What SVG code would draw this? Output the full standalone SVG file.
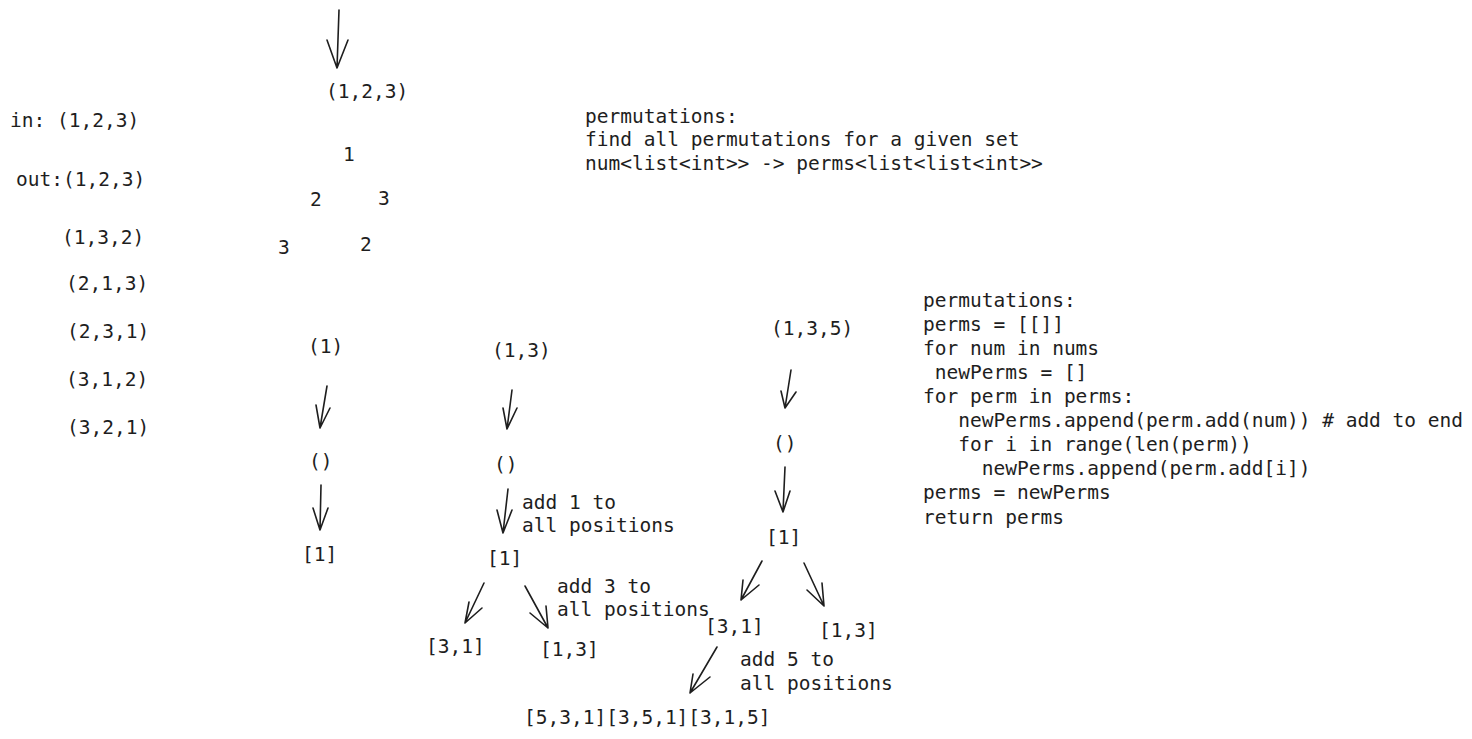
<svg xmlns="http://www.w3.org/2000/svg" width="1472" height="739" viewBox="0 0 1472 739">
<style>
text { font-family: "DejaVu Sans Mono", "Liberation Mono", monospace; font-size: 19.5px; fill: #1e1e1e; }
.a { fill: none; stroke: #1e1e1e; stroke-width: 1.6; stroke-linecap: round; stroke-linejoin: round; }
</style>
<rect width="1472" height="739" fill="#ffffff"/>

<g id="io-list">
<text x="10" y="127">in: (1,2,3)</text>
<text x="16" y="186">out:(1,2,3)</text>
<text x="62" y="244">(1,3,2)</text>
<text x="66" y="290">(2,1,3)</text>
<text x="67" y="338">(2,3,1)</text>
<text x="66" y="386">(3,1,2)</text>
<text x="67" y="434">(3,2,1)</text>
</g>

<g id="tree-123">
<text x="326" y="98">(1,2,3)</text>
<text x="343" y="161">1</text>
<text x="310" y="206">2</text>
<text x="378" y="205">3</text>
<text x="278" y="254">3</text>
<text x="360" y="251">2</text>
</g>

<g id="description">
<text x="585" y="123">permutations:</text>
<text x="585" y="146">find all permutations for a given set</text>
<text x="585" y="170">num&lt;list&lt;int&gt;&gt; -&gt; perms&lt;list&lt;list&lt;int&gt;&gt;</text>
</g>

<g id="pseudocode">
<text x="923" y="307">permutations:</text>
<text x="923" y="331">perms = [[]]</text>
<text x="923" y="355">for num in nums</text>
<text x="923" y="379" xml:space="preserve"> newPerms = []</text>
<text x="923" y="403">for perm in perms:</text>
<text x="923" y="427" xml:space="preserve">   newPerms.append(perm.add(num)) # add to end</text>
<text x="923" y="451" xml:space="preserve">   for i in range(len(perm))</text>
<text x="923" y="475" xml:space="preserve">     newPerms.append(perm.add[i])</text>
<text x="923" y="499">perms = newPerms</text>
<text x="923" y="524">return perms</text>
</g>

<g id="ex1">
<text x="308" y="353">(1)</text>
<text x="309" y="468">()</text>
<text x="302" y="561">[1]</text>
</g>

<g id="ex2">
<text x="492" y="357">(1,3)</text>
<text x="494" y="471">()</text>
<text x="522" y="509">add 1 to</text>
<text x="522" y="532">all positions</text>
<text x="487" y="565">[1]</text>
<text x="557" y="593">add 3 to</text>
<text x="557" y="616">all positions</text>
<text x="426" y="653">[3,1]</text>
<text x="540" y="656">[1,3]</text>
</g>

<g id="ex3">
<text x="771" y="335">(1,3,5)</text>
<text x="773" y="450">()</text>
<text x="766" y="544">[1]</text>
<text x="705" y="633">[3,1]</text>
<text x="819" y="637">[1,3]</text>
<text x="740" y="666">add 5 to</text>
<text x="740" y="690">all positions</text>
<text x="524" y="724">[5,3,1][3,5,1][3,1,5]</text>
</g>

<g id="connectors">
<path class="a" d="M339 10 L337 68 M327 40 L337 68 L348 40"/>
<path class="a" d="M327 386 L320 428 M316 405 L320 428 L330 408"/>
<path class="a" d="M321 485 L320 530 M313 508 L320 530 L328 508"/>
<path class="a" d="M512 390 L507 429 M503 408 L507 429 L517 408"/>
<path class="a" d="M508 489 L503 533 M497 510 L503 533 L512 510"/>
<path class="a" d="M484 583 L465 623 M469 602 L465 623 L482 608"/>
<path class="a" d="M525 586 L548 628 M530 613 L548 628 L546 606"/>
<path class="a" d="M791 370 L785 408 M781 391 L785 408 L796 392"/>
<path class="a" d="M785 467 L783 512 M775 491 L783 512 L790 491"/>
<path class="a" d="M762 561 L741 600 M743 580 L741 600 L759 585"/>
<path class="a" d="M804 563 L824 606 M807 590 L824 606 L822 583"/>
<path class="a" d="M717 647 L690 693 M693 674 L690 693 L710 677"/>
</g>
</svg>
